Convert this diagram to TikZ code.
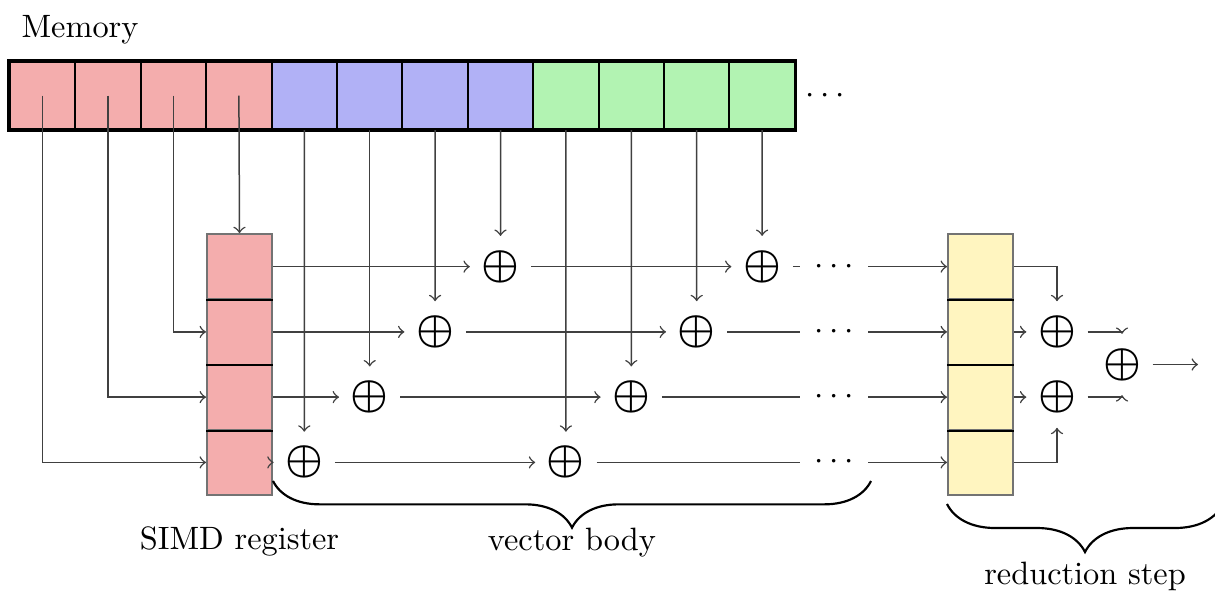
\documentclass[tikz,border=0pt]{standalone}
\usetikzlibrary{decorations.pathreplacing}
\definecolor{memred}{RGB}{244,173,173}
\definecolor{memblue}{RGB}{177,177,246}
\definecolor{memgreen}{RGB}{178,243,178}
\definecolor{accyellow}{RGB}{255,245,192}
\newcommand{\addsym}{\scalebox{1.27}{\boldmath$\oplus$}}
\begin{document}
\begin{tikzpicture}[x=0.3pt,y=-0.3pt,
  font=\fontsize{9.7}{11.6}\selectfont, >=to,
  cell/.style={rectangle, minimum width=19.62pt, minimum height=20.1pt,
    inner sep=0pt, draw=black, line width=0.6pt},
  regcell/.style={rectangle, minimum width=19.6pt, minimum height=19.58pt,
    inner sep=0pt, draw=black!55, line width=0.5pt},
  divider/.style={draw=black, line width=0.6pt},
  op/.style={circle, minimum size=18pt, inner sep=0pt,
    font=\fontsize{10}{12}\selectfont},
  dotsnode/.style={inner sep=0pt, minimum width=20.1pt, minimum height=8pt},
  conn/.style={draw=black!75, line width=0.45pt},
  bracestyle/.style={decorate, decoration={brace, mirror, amplitude=#1},
    line width=0.65pt},
  lbl/.style={anchor=base, inner sep=0pt}]

\useasboundingbox (0,0) rectangle (1215,591);

% ---- memory row ----
\foreach \i/\c in {1/memred,2/memred,3/memred,4/memred,
                   5/memblue,6/memblue,7/memblue,8/memblue,
                   9/memgreen,10/memgreen,11/memgreen,12/memgreen}
  \node[cell, fill=\c] (m\i) at ({10+65.4*(\i-0.5)},95.5) {};
\draw[line width=1pt] (m1.north west) rectangle (m12.south east);
\node (mdots) at (825,96) {$\cdots$};
\node[lbl] (memlabel) at (80,37) {Memory};

% ---- SIMD register and accumulator register ----
\foreach \i/\y in {1/266.6,2/331.9,3/397.1,4/462.4} {
  \node[regcell, fill=memred] (r\i) at (239.5,\y) {};
  \node[regcell, fill=accyellow] (y\i) at (980.5,\y) {};
}
\foreach \i in {1,2,3} {
  \draw[divider] (r\i.south west) -- (r\i.south east);
  \draw[divider] (y\i.south west) -- (y\i.south east);
}

% ---- adders of the vector body ----
\node[op] (a1) at (500.5,266.6) {\addsym};
\node[op] (a2) at (435.1,331.9) {\addsym};
\node[op] (a3) at (369.7,397.1) {\addsym};
\node[op] (a4) at (304.3,462.4) {\addsym};
\node[op] (b1) at (762.1,266.6) {\addsym};
\node[op] (b2) at (696.7,331.9) {\addsym};
\node[op] (b3) at (631.3,397.1) {\addsym};
\node[op] (b4) at (565.9,462.4) {\addsym};
\foreach \i/\y in {1/266.6,2/331.9,3/397.1,4/462.4}
  \node[dotsnode] (d\i) at (834,\y) {$\cdots$};

% ---- reduction adders ----
\node[op] (z1) at (1057,331.9) {\addsym};
\node[op] (z2) at (1057,397.1) {\addsym};
\node[op] (zf) at (1122,364.5) {\addsym};
\coordinate (outend) at (1198,364.5);

% ---- loads into the SIMD register ----
\draw[conn,->] (m1.center) |- (r4.west);
\draw[conn,->] (m2.center) |- (r3.west);
\draw[conn,->] (m3.center) |- (r2.west);
\draw[conn,->] (m4.center) -- (r1.north);

% ---- vector body ----
\foreach \i in {1,2,3,4} {
  \draw[conn,->] (r\i.east) -- (a\i);
  \draw[conn,->] (a\i) -- (b\i);
  \draw[conn] (b\i) -- (d\i);
  \draw[conn,->] (d\i) -- (y\i.west);
}
\draw[conn,->] (m5.south) -- (a4);
\draw[conn,->] (m6.south) -- (a3);
\draw[conn,->] (m7.south) -- (a2);
\draw[conn,->] (m8.south) -- (a1);
\draw[conn,->] (m9.south) -- (b4);
\draw[conn,->] (m10.south) -- (b3);
\draw[conn,->] (m11.south) -- (b2);
\draw[conn,->] (m12.south) -- (b1);

% ---- reduction step ----
\draw[conn,->] (y1.east) -| (z1);
\draw[conn,->] (y2.east) -- (z1);
\draw[conn,->] (y3.east) -- (z2);
\draw[conn,->] (y4.east) -| (z2);
\draw[conn,->] (z1) -| (zf);
\draw[conn,->] (z2) -| (zf);
\draw[conn,->] (zf) -- (outend);

% ---- braces and labels ----
\coordinate (vbL) at (273,481);
\coordinate (vbR) at (871,481);
\coordinate (rbL) at (947,504);
\coordinate (rbR) at (1223,504);
\draw[bracestyle=14pt] (vbL) -- (vbR);
\draw[bracestyle=14.4pt] (rbL) -- (rbR);
\node[lbl] (simdlabel) at (239.5,549) {SIMD register};
\node[lbl] (vblabel) at (572,550) {vector body};
\node[lbl] (rslabel) at (1085,584) {reduction step};
\end{tikzpicture}
\end{document}
